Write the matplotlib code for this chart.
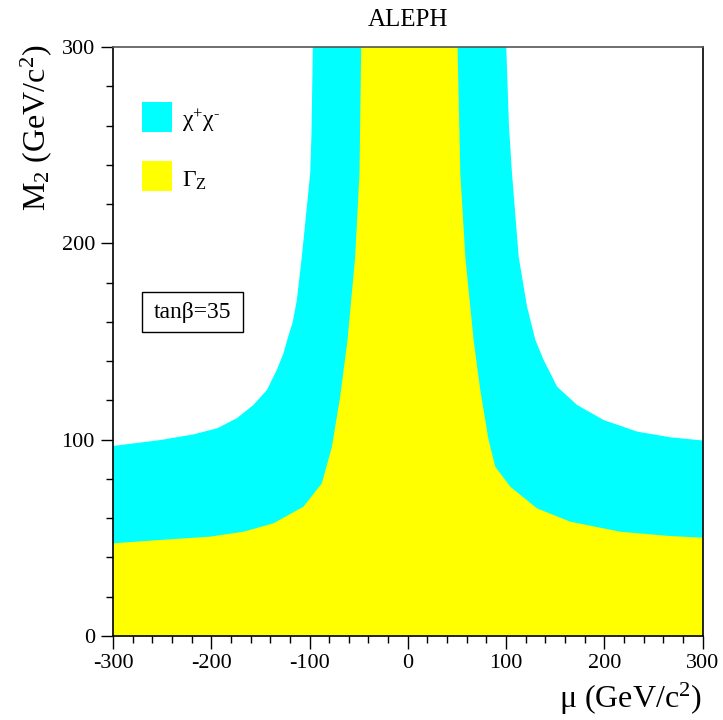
import matplotlib
matplotlib.use("Agg")
import matplotlib.pyplot as plt
from matplotlib.ticker import MultipleLocator
from matplotlib.patches import Rectangle

plt.rcParams['font.family'] = ['Liberation Serif', 'DejaVu Serif']
plt.rcParams['mathtext.fontset'] = 'custom'
plt.rcParams['mathtext.rm'] = 'Liberation Serif'
plt.rcParams['mathtext.default'] = 'regular'
plt.rcParams['axes.unicode_minus'] = False

# chargino (chi+chi-) exclusion boundary: (mu, M2)
chi_mu = [-300, -252, -218, -194, -174, -157, -143.4, -133.3, -126.5, -122, -117,
          -112.9, -107.8, -102.7, -99.3, -98, -96.6,
          100.3, 103, 106.1, 112.9, 121.4, 129.9, 138.3, 152, 172.3, 199.4,
          233.5, 267.4, 300]
chi_m2 = [96.8, 99.8, 102.7, 105.8, 110.9, 117.7, 125.3, 135.5, 144.0, 152, 160,
          171.1, 193.2, 218.7, 235.7, 255, 300,
          300, 260, 235.7, 193.2, 167.8, 150.8, 140.6, 127, 117.7, 110,
          104.1, 101.2, 99.6]

# Gamma_Z exclusion boundary: (mu, M2)
gz_mu = [-300, -252, -201.2, -167.3, -136.7, -106.1, -87.4, -77.2, -68.8, -61.3,
         -53.5, -49.1, -47.4,
         50.7, 53.5, 58.6, 67, 73.8, 82.3, 89.1, 104.4, 131.6, 165.5, 216.5,
         267.4, 300]
gz_m2 = [47.2, 48.9, 50.6, 53.1, 57.4, 65.9, 77.8, 96.4, 121.9, 150.8,
         193.2, 235.7, 300,
         300, 235.7, 193.2, 150.8, 125.3, 99.8, 86.2, 76, 65, 58.2, 53.1,
         50.9, 50.1]

legend_labels = [r'χ$^{+}$χ$^{\text{-}}$', 'Γ$_{Z}$']
cyan = '#00ffff'
yellow = '#ffff00'

fig = plt.figure(figsize=(7.23, 7.20), dpi=100)
ax = fig.add_axes([113/723, 84/720, 589.5/723, 589/720])

ax.fill(chi_mu + [300, -300], chi_m2 + [0, 0], color=cyan, lw=0)
ax.fill(gz_mu + [300, -300], gz_m2 + [0, 0], color=yellow, lw=0)

ax.set_xlim(-300, 300)
ax.set_ylim(0, 300)
ax.xaxis.set_major_locator(MultipleLocator(100))
ax.xaxis.set_minor_locator(MultipleLocator(20))
ax.yaxis.set_major_locator(MultipleLocator(100))
ax.yaxis.set_minor_locator(MultipleLocator(20))
ax.tick_params(which='major', direction='out', length=9, width=1, labelsize=16, pad=4)
ax.tick_params(which='minor', direction='out', length=5, width=1)
ax.tick_params(top=False, right=False)
for s in ax.spines.values():
    s.set_linewidth(1.2)
ax.spines['top'].set_color('#555555')

# legend boxes
ax.add_patch(Rectangle((-270.5, 256.7), 30.6, 15.3, color=cyan, lw=0))
ax.add_patch(Rectangle((-270.5, 226.7), 30.6, 15.3, color=yellow, lw=0))
ax.text(-230, 259.5, legend_labels[0], fontsize=17, va='baseline', ha='left')
ax.text(-230, 228.7, legend_labels[1], fontsize=17, va='baseline', ha='left')

ax.add_patch(Rectangle((-270.5, 154.8), 102.9, 20.4, fc='white', ec='black', lw=1))
ax.text(-219.5, 165, 'tanβ=35', fontsize=17, ha='center', va='center')

fig.text(408/723, 1 - 20/720, 'ALEPH', fontsize=18, ha='center', va='center')
fig.text(702/723, 1 - 708/720, 'μ (GeV/c$^{2}$)', fontsize=23, ha='right', va='baseline')
fig.text(36/723, 1 - 45/720, 'M$_{2}$ (GeV/c$^{2}$)', fontsize=23, ha='center', va='top',
         rotation=90)

fig.savefig('out.png', dpi=100)
